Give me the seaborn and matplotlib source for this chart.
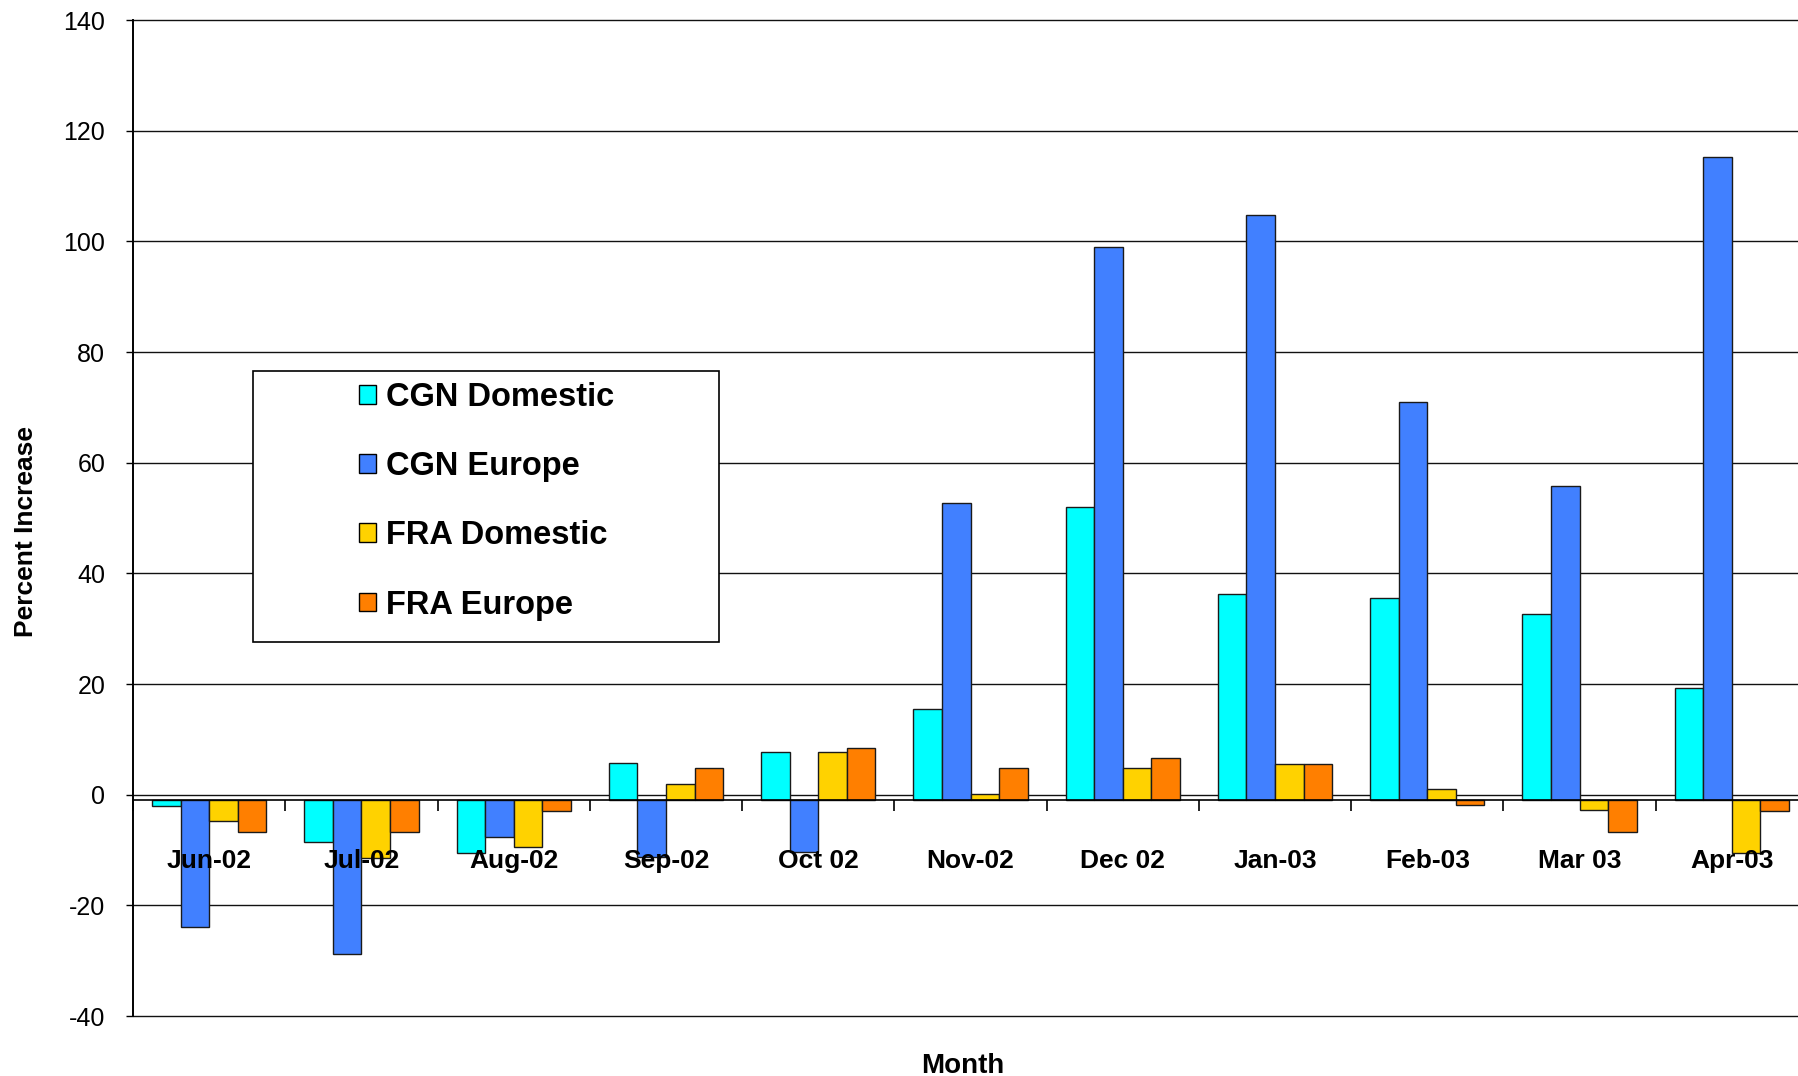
import numpy as np
import pandas as pd
import matplotlib
matplotlib.use("Agg")
import matplotlib.pyplot as plt
from matplotlib.patches import Patch, Rectangle
from matplotlib.ticker import FixedLocator
import seaborn as sns

# data
months = ["Jun-02", "Jul-02", "Aug-02", "Sep-02", "Oct 02", "Nov-02",
          "Dec 02", "Jan-03", "Feb-03", "Mar 03", "Apr-03"]
series = ["CGN Domestic", "CGN Europe", "FRA Domestic", "FRA Europe"]
cgn_domestic = [-2.0, -8.6, -10.5, 5.8, 7.7, 15.4, 51.9, 36.3, 35.5, 32.6, 19.3]
cgn_europe = [-24.0, -28.8, -7.7, -11.2, -10.4, 52.8, 99.0, 104.7, 71.0, 55.7, 115.3]
fra_domestic = [-4.8, -11.4, -9.5, 1.9, 7.7, 0.2, 4.8, 5.6, 1.0, -2.8, -10.5]
fra_europe = [-6.7, -6.7, -2.9, 4.8, 8.5, 4.8, 6.6, 5.6, -1.9, -6.8, -2.9]
colors = ["#00FFFF", "#4180FF", "#FFD200", "#FF7F00"]

# category axis crosses the value axis slightly below zero (Excel style)
BASELINE = -1

df = pd.DataFrame({
    "Month": months * 4,
    "Series": np.repeat(series, len(months)),
    "Value": cgn_domestic + cgn_europe + fra_domestic + fra_europe,
})

sns.set_theme(style="white")
plt.rcParams["font.family"] = ["Liberation Sans", "DejaVu Sans"]
plt.rcParams["axes.unicode_minus"] = False
plt.rcParams["text.color"] = "black"

fig = plt.figure(figsize=(17.98, 10.76), dpi=100)
ax = fig.add_axes([133 / 1798, 1 - 1016 / 1076, 1675 / 1798, 996 / 1076])

sns.barplot(data=df, x="Month", y="Value", hue="Series", order=months,
            hue_order=series, palette=colors, saturation=1, width=0.75,
            edgecolor="#1a1a1a", linewidth=1.0, legend=False, ax=ax)

# bars grow from the category axis, not from zero
for p in ax.patches:
    h = p.get_height()
    p.set_y(BASELINE)
    p.set_height(h - BASELINE)

ax.set_ylim(-40, 140)
ax.set_xlim(-0.5, len(months) - 0.5)
ax.set_yticks(np.arange(-40, 141, 20))
ax.yaxis.grid(True, color="#111111", linewidth=1.0)
ax.set_axisbelow(True)
for gl in ax.get_ygridlines():
    gl.set_clip_on(False)

for s in ["top", "right"]:
    ax.spines[s].set_visible(False)
ax.spines["left"].set_color("black")
ax.spines["left"].set_linewidth(1.4)
ax.spines["bottom"].set_position(("data", BASELINE))
ax.spines["bottom"].set_color("black")
ax.spines["bottom"].set_linewidth(1.2)

ax.tick_params(axis="y", which="major", direction="out", length=5, width=1,
               color="black", left=True, pad=15, labelsize=18, labelcolor="black")
ax.tick_params(axis="x", which="major", length=0, pad=35, labelsize=19,
               labelcolor="black")
ax.xaxis.set_minor_locator(FixedLocator(np.arange(-0.5, len(months), 1.0)))
ax.tick_params(axis="x", which="minor", direction="out", length=8, width=1.2,
               color="black", bottom=True)
for lab in ax.get_xticklabels():
    lab.set_fontweight("bold")
# month labels sit on top of the bars
ax.xaxis.set_zorder(4)

ax.set_ylabel("Percent Increase", fontsize=19, fontweight="bold", color="black")
ax.yaxis.set_label_coords(-0.0565, 0.486)
ax.set_xlabel("Month", fontsize=20, fontweight="bold", color="black")
ax.xaxis.set_label_coords(0.4955, -0.037)

# legend box like the Excel one
box = Rectangle((253 / 1798, 1 - 642 / 1076), 466 / 1798, 271 / 1076,
                transform=fig.transFigure, facecolor="white", edgecolor="black",
                linewidth=1.2, zorder=5)
fig.patches.append(box)
handles = [Patch(facecolor=c, edgecolor="black", linewidth=1.0) for c in colors]
leg = fig.legend(handles, series, loc="upper left",
                 bbox_to_anchor=(359 / 1798, 1 - 382 / 1076), frameon=False,
                 borderpad=0, borderaxespad=0, handlelength=0.52,
                 handleheight=0.5, handletextpad=0.3, labelspacing=1.17,
                 prop={"size": 23.5, "weight": "bold"})
for t in leg.get_texts():
    t.set_color("black")
leg.set_zorder(6)

fig.savefig("out.png", dpi=100, facecolor="white")
